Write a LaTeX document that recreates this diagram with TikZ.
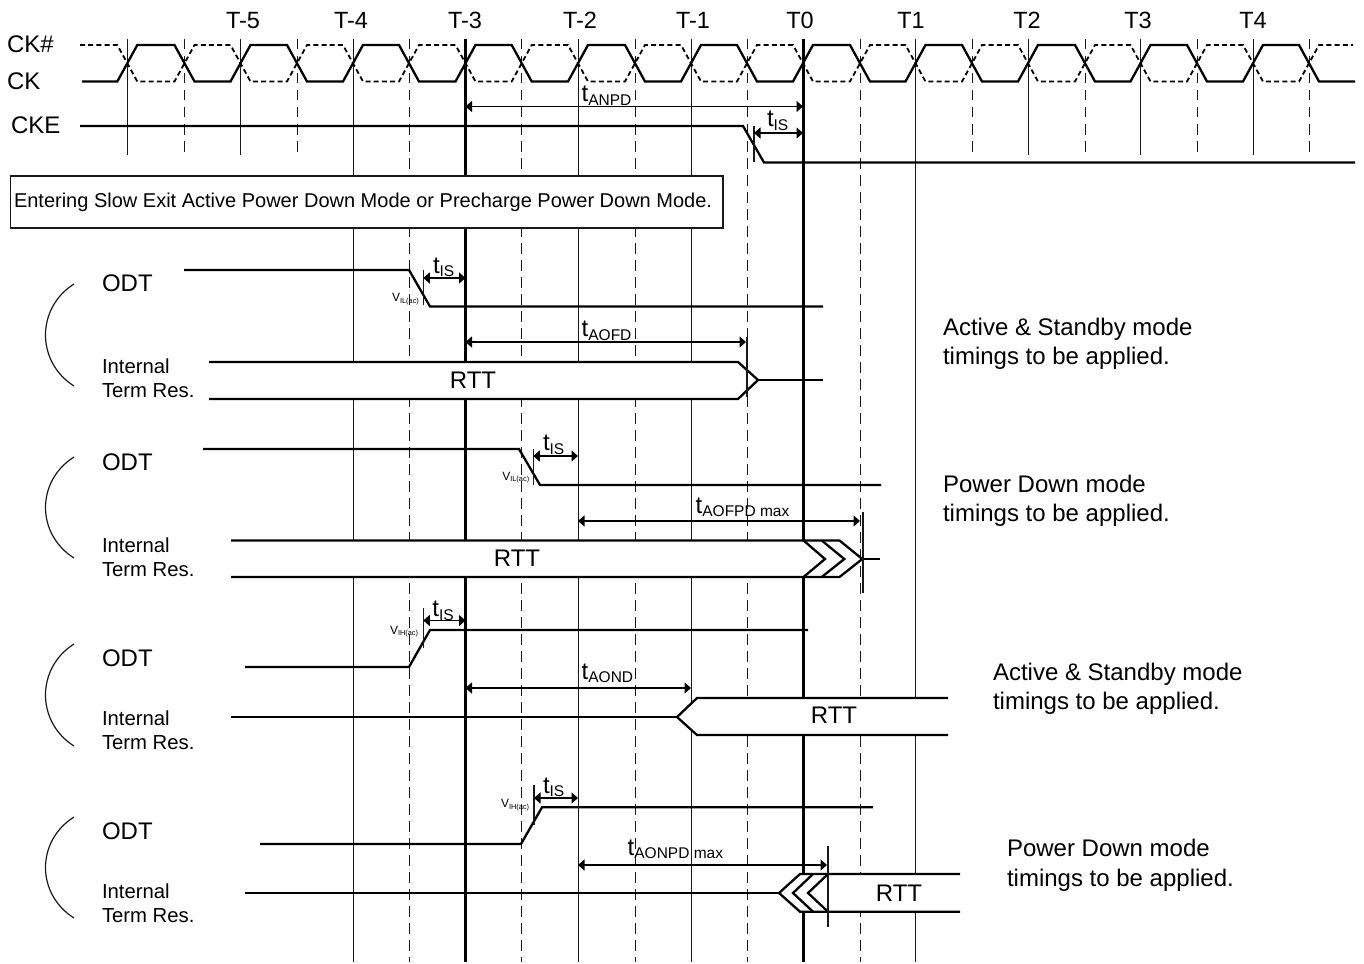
\documentclass[tikz,border=0pt]{standalone}
\usepackage{fontspec}
\setmainfont{Liberation Sans}
\usetikzlibrary{arrows.meta}
\newcommand{\fs}[1]{\fontsize{#1}{#1}\selectfont}
\newcommand{\tlab}[1]{\fs{24}t\raisebox{-3.5pt}{\fs{15.5}#1}}
\newcommand{\vlab}[1]{\fs{12}V\raisebox{-1.5pt}{\fs{7.4}#1}}
\tikzset{
  x=1pt,y=-1pt,
  wave/.style={line width=2.3pt,black,line join=miter},
  wavedash/.style={line width=1.8pt,black,dash pattern=on 5pt off 3.2pt},
  gridsolid/.style={line width=1.8pt,black!90},
  gridheavy/.style={line width=2.5pt,black},
  griddash/.style={line width=1.8pt,black!90,dash pattern=on 10.5pt off 6.5pt},
  tickline/.style={line width=1.5pt,black!90},
  curve/.style={line width=1.2pt,black!90},
  dim/.style={line width=1.5pt,black,{Triangle[length=6.5pt,width=11pt]}-{Triangle[length=6.5pt,width=11pt]}},
  lab/.style={inner sep=0pt,outer sep=0pt,anchor=base west,font=\fs{24}},
  small/.style={lab,font=\fs{20.3}},
  tim/.style={inner sep=0pt,outer sep=0pt,anchor=base west},
  busfill/.style={fill=white,draw=none},
}
\begin{document}
\begin{tikzpicture}
\useasboundingbox (0,0) rectangle (1364,963);
\fill[white] (0,0) rectangle (1364,963);
% short clock grid
\foreach \x in {127.5,240.5,1028.5,1140.5,1253.5} \draw[gridsolid] (\x,39) -- (\x,155);
\foreach \x in {184.5,297.5,972.5,1085.5,1197.5,1309.5} \draw[griddash] (\x,39) -- (\x,155);
% long grid
\foreach \x in {353.5,578.5,691.5,915.5} \draw[gridsolid] (\x,39) -- (\x,962);
\foreach \x in {465.5,803.5} \draw[gridheavy] (\x,39) -- (\x,962);
\foreach \x in {409.5,521.5,635.5,747.5,860.5} \draw[griddash] (\x,39) -- (\x,962);
% clock labels
\foreach \n/\x in {5/243,4/351,3/465,2/580,1/693} \node[lab,anchor=base,font=\fs{23.5}] (tm\n) at (\x,29) {T-\n};
\foreach \n/\x in {0/800,1/911,2/1027,3/1138,4/1253} \node[lab,anchor=base,font=\fs{23.5}] (tp\n) at (\x,29) {T\n};
\node[lab] (ckn) at (7,52.5) {CK\#};
\node[lab] (ck) at (7,90) {CK};
\node[lab] (cke) at (11,133.5) {CKE};
% clocks
\draw[wavedash] (80,45) \foreach \r/\f in {127.3/184.5,240.5/297,353/409,465.5/521.7,578/635,691/747,803/860,915.5/972,1028/1085,1140.5/1197,1253/1309}
  { -- (\r-10,45) -- (\r+10,81.5) -- (\f-10,81.5) -- (\f+10,45) } -- (1353,45);
\draw[wave] (82,81.5) \foreach \r/\f in {127.3/184.5,240.5/297,353/409,465.5/521.7,578/635,691/747,803/860,915.5/972,1028/1085,1140.5/1197,1253/1309}
  { -- (\r-10,81.5) -- (\r+10,45) -- (\f-10,45) -- (\f+10,81.5) } -- (1355,81.5);
% CKE
\draw[wave] (80,126) -- (743,126) -- (764,162.5) -- (1355,162.5);
\coordinate (anpdA) at (465.5,106.5); \coordinate (anpdB) at (803,106.5);
\draw[dim] (anpdA) -- (anpdB);
\node[tim] (anpd) at (581.7,101.7) {\tlab{ANPD}};
\draw[tickline] (754,126) -- (754,162);
\coordinate (is0A) at (754,133); \coordinate (is0B) at (803,133);
\draw[dim] (is0A) -- (is0B);
\node[tim] (is0) at (767,126.7) {\tlab{IS}};
% banner
\node[draw=black!90,line width=1.5pt,fill=white,inner sep=0pt,minimum width=712.5pt,minimum height=52pt,anchor=north west] (banner) at (9.5,175) {};
\node[lab,font=\fs{20}] (bannertext) at (14,207) {Entering Slow Exit Active Power Down Mode or Precharge Power Down Mode.};

% ---------- row 1
\draw[curve] (74,284) .. controls (36,308) and (36,362) .. (74,386);
\node[lab] (odt1) at (102,291.4) {ODT};
\node[small] (int1) at (102,373.3) {Internal};
\node[small] (term1) at (102,397.3) {Term Res.};
\draw[wave] (184,270) -- (409,270) -- (430,306.5) -- (823,306.5);
\draw[tickline] (423.3,270) -- (423.3,305);
\coordinate (is1A) at (423.3,278); \coordinate (is1B) at (465.5,278);
\draw[dim] (is1A) -- (is1B);
\node[tim] (is1) at (433,273) {\tlab{IS}};
\node[tim] (v1) at (392,301.7) {\vlab{IL(ac)}};
\fill[busfill] (209,362) -- (738,362) -- (758,380) -- (738,399) -- (209,399) -- cycle;
\draw[wave] (209,362) -- (738,362) -- (758,380) -- (738,399) -- (209,399);
\draw[wave] (758,380) -- (823,380);
\draw[tickline] (747,337) -- (747,397);
\coordinate (aofdA) at (465.5,342); \coordinate (aofdB) at (746,342);
\draw[dim] (aofdA) -- (aofdB);
\node[tim] (aofd) at (581.7,336.7) {\tlab{AOFD}};
\node[lab,anchor=base] (rtt1) at (473,388.4) {RTT};

% ---------- row 2
\draw[curve] (74,457) .. controls (36,481) and (36,534) .. (74,558);
\node[lab] (odt2) at (102,470) {ODT};
\node[small] (int2) at (102,552.3) {Internal};
\node[small] (term2) at (102,576) {Term Res.};
\draw[wave] (203,449) -- (519,449) -- (540,485) -- (881,485);
\draw[tickline] (533.3,449) -- (533.3,485);
\coordinate (is2A) at (533.3,456); \coordinate (is2B) at (578,456);
\draw[dim] (is2A) -- (is2B);
\node[tim] (is2) at (543,450.7) {\tlab{IS}};
\node[tim] (v2) at (502.3,480) {\vlab{IL(ac)}};
\fill[busfill] (231,540.5) -- (839.5,540.5) -- (862.3,559) -- (839.5,577) -- (231,577) -- cycle;
\draw[wave] (231,540.5) -- (839.5,540.5) -- (862.3,559) -- (839.5,577) -- (231,577);
\draw[wave] (803.5,540.5) -- (825,559) -- (803.5,577);
\draw[wave] (821.7,540.5) -- (844.3,559) -- (821.7,577);
\draw[wave] (862.3,559) -- (880,559);
\draw[tickline] (863,512) -- (863,593);
\coordinate (aofpdA) at (578,521); \coordinate (aofpdB) at (860,521);
\draw[dim] (aofpdA) -- (aofpdB);
\node[tim] (aofpd) at (695.7,513.3) {\tlab{AOFPD max}};
\node[lab,anchor=base] (rtt2) at (517,566) {RTT};

% ---------- row 3
\draw[curve] (74,644) .. controls (36,668) and (36,722) .. (74,746);
\node[lab] (odt3) at (102,666.4) {ODT};
\node[small] (int3) at (102,725.7) {Internal};
\node[small] (term3) at (102,749.3) {Term Res.};
\draw[wave] (245,667) -- (409,667) -- (430,630) -- (808,630);
\draw[tickline] (423.3,608) -- (423.3,648);
\coordinate (is3A) at (423.3,620.5); \coordinate (is3B) at (465.5,620.5);
\draw[dim] (is3A) -- (is3B);
\node[tim] (is3) at (432.4,616.7) {\tlab{IS}};
\node[tim] (v3) at (390,634) {\vlab{IH(ac)}};
\fill[busfill] (948,698) -- (697,698) -- (677,717) -- (697,735) -- (948,735) -- cycle;
\draw[wave] (948,698) -- (697,698) -- (677,717) -- (697,735) -- (948,735);
\draw[wave] (231,717) -- (677,717);
\coordinate (aondA) at (465.5,688); \coordinate (aondB) at (691,688);
\draw[dim] (aondA) -- (aondB);
\node[tim] (aond) at (581.7,679.3) {\tlab{AOND}};
\node[lab,anchor=base] (rtt3) at (834,723.7) {RTT};

% ---------- row 4
\draw[curve] (74,817) .. controls (36,841) and (36,894) .. (74,918);
\node[lab] (odt4) at (102,839) {ODT};
\node[small] (int4) at (102,898.3) {Internal};
\node[small] (term4) at (102,922) {Term Res.};
\draw[wave] (260,844) -- (521,844) -- (542,807.3) -- (873,807.3);
\draw[tickline] (534,785) -- (534,825);
\coordinate (is4A) at (534,798); \coordinate (is4B) at (578,798);
\draw[dim] (is4A) -- (is4B);
\node[tim] (is4) at (543,793.3) {\tlab{IS}};
\node[tim] (v4) at (501,807.7) {\vlab{IH(ac)}};
\fill[busfill] (960,874) -- (800,874) -- (779,893) -- (800,911.7) -- (960,911.7) -- cycle;
\draw[wave] (960,874) -- (800,874) -- (779,893) -- (800,911.7) -- (960,911.7);
\draw[wave] (813,874) -- (793,893) -- (813,911.7);
\draw[wave] (828,874) -- (808,893) -- (828,911.7);
\draw[wave] (245,893) -- (779,893);
\draw[tickline] (828,846) -- (828,927);
\coordinate (aonpdA) at (578,865); \coordinate (aonpdB) at (827,865);
\draw[dim] (aonpdA) -- (aonpdB);
\node[tim] (aonpd) at (627.7,855) {\tlab{AONPD max}};
\node[lab,anchor=base] (rtt4) at (899,901) {RTT};

% ---------- notes
\node[lab] (n1a) at (943,335) {Active \& Standby mode};
\node[lab] (n1b) at (943,364) {timings to be applied.};
\node[lab] (n2a) at (943,492.5) {Power Down mode};
\node[lab] (n2b) at (943,521.5) {timings to be applied.};
\node[lab] (n3a) at (993,680) {Active \& Standby mode};
\node[lab] (n3b) at (993,709) {timings to be applied.};
\node[lab] (n4a) at (1007,856.7) {Power Down mode};
\node[lab] (n4b) at (1007,886) {timings to be applied.};
\end{tikzpicture}
\end{document}
